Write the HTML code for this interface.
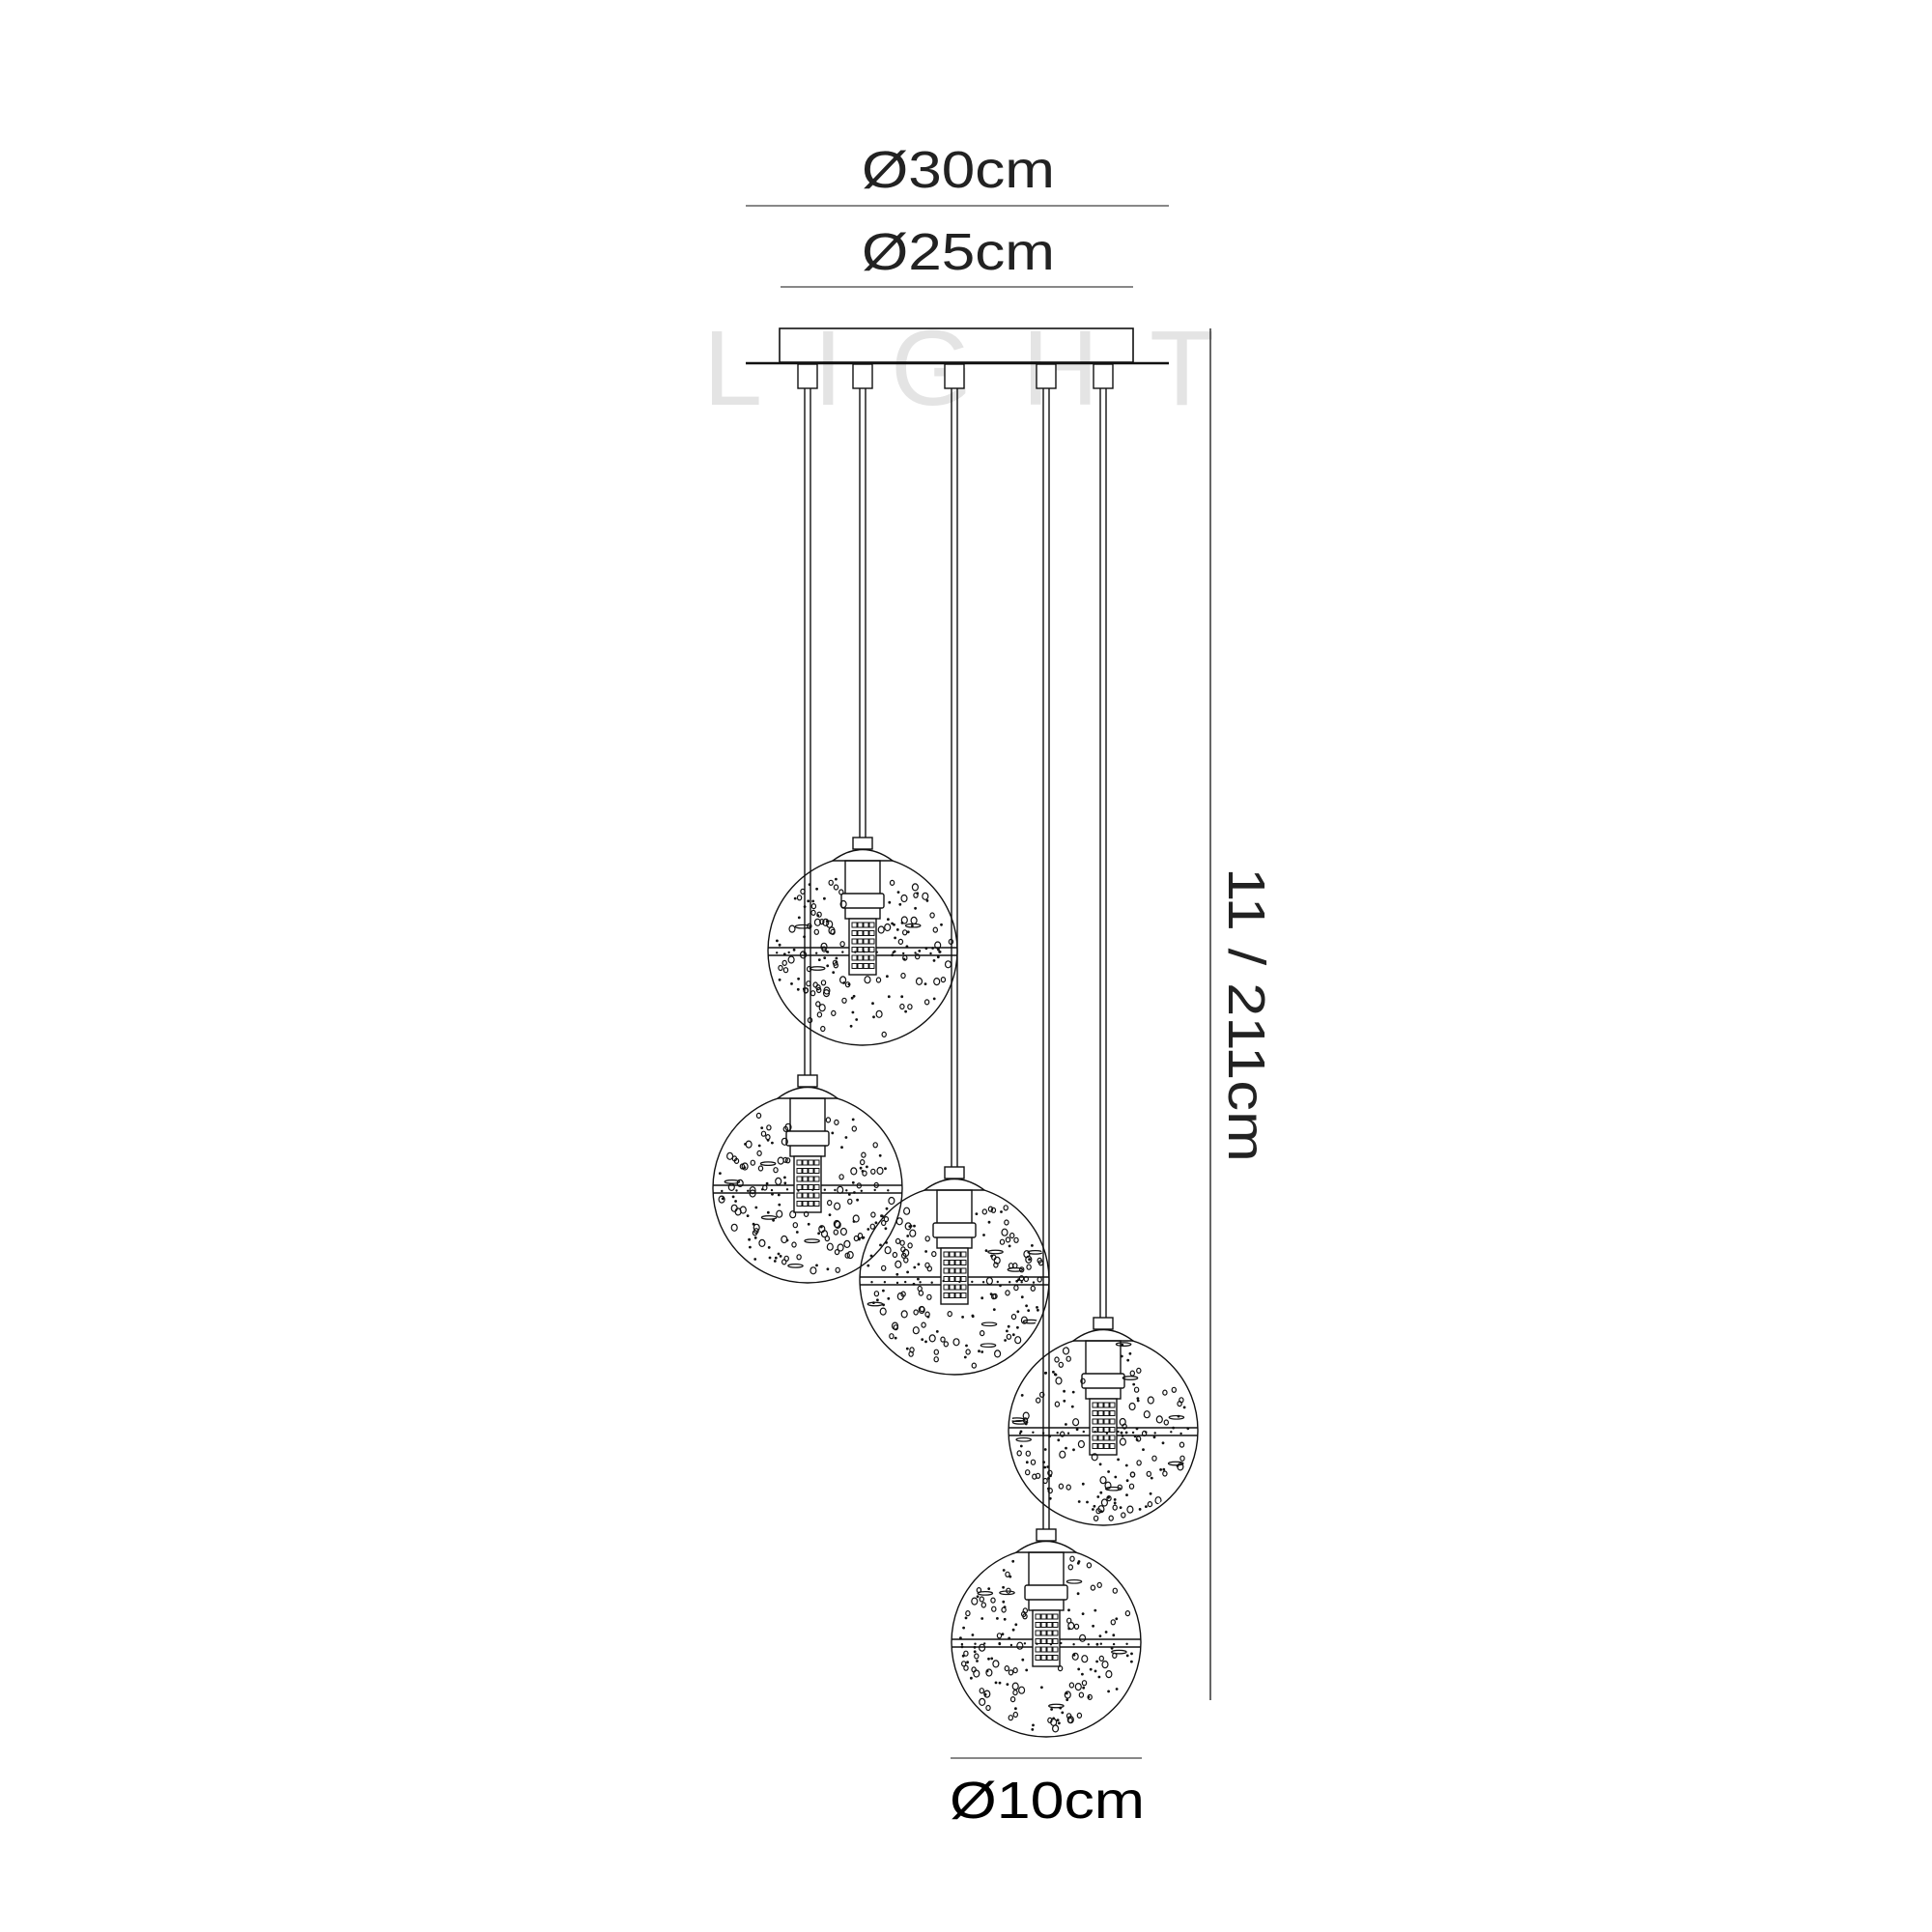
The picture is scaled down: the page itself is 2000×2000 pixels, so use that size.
<!DOCTYPE html>
<html><head><meta charset="utf-8"><style>
html,body{margin:0;padding:0;background:#fff;}
svg{display:block;}
text{font-family:"Liberation Sans",sans-serif;}
</style></head><body>
<svg id="s" width="2000" height="2000" viewBox="0 0 2000 2000" xmlns="http://www.w3.org/2000/svg">
<rect width="2000" height="2000" fill="#fff"/>
<g fill="#e4e4e4" font-size="110">
<text x="728" y="419">L</text>
<text x="842" y="419">I</text>
<text x="922" y="419">G</text>
<text x="1058" y="419">H</text>
<text x="1190" y="419">T</text>
</g>
<g fill="#222" font-size="54">
<text x="892" y="194" textLength="200" lengthAdjust="spacingAndGlyphs">Ø30cm</text>
<text x="892" y="279" textLength="200" lengthAdjust="spacingAndGlyphs">Ø25cm</text>
<text x="983" y="1882" textLength="202" lengthAdjust="spacingAndGlyphs" fill="#000">Ø10cm</text>
<text transform="translate(1272,898) rotate(90)" x="0" y="0" textLength="305" lengthAdjust="spacingAndGlyphs">11 / 211cm</text>
</g>
<g stroke="#888" stroke-width="2">
<line x1="772" y1="213" x2="1210" y2="213"/>
<line x1="808" y1="297" x2="1173" y2="297"/>
<line x1="984" y1="1820" x2="1182" y2="1820"/>
</g>
<line x1="1253" y1="340" x2="1253" y2="1760" stroke="#333" stroke-width="1.5"/>
<g fill="none" stroke="#111" stroke-width="1.6">
<rect x="807" y="340" width="366" height="35"/>
<line x1="772" y1="376" x2="1210" y2="376" stroke-width="2.5"/>
</g>
<g id="wires" fill="none" stroke="#111" stroke-width="1.4"></g>
<g id="spheres"></g>
</svg>
<script>
(function(){
var NS="http://www.w3.org/2000/svg";
var wires=document.getElementById('wires'),sp=document.getElementById('spheres');
var P=[[836,1230],[893,984],[988,1325],[1083,1700],[1142,1481]];
function el(p,t,a){var e=document.createElementNS(NS,t);for(var k in a)e.setAttribute(k,a[k]);p.appendChild(e);return e;}
var seed=11;function rnd(){seed=(seed*16807)%2147483647;return seed/2147483647;}
P.forEach(function(c){
 var x=c[0],y=c[1];
 el(wires,'rect',{x:x-10,y:377,width:20,height:25,fill:'#fff'});
 el(wires,'line',{x1:x-3,y1:402,x2:x-3,y2:y-117});
 el(wires,'line',{x1:x+3,y1:402,x2:x+3,y2:y-117});
});
P.forEach(function(c,i){
 var g=el(sp,'g',{transform:'translate('+c[0]+','+c[1]+')',fill:'none',stroke:'#111','stroke-width':1.4});
 var id='cl'+i;var cp=el(g,'clipPath',{id:id});el(cp,'circle',{cx:0,cy:0,r:95});
 el(g,'circle',{cx:0,cy:0,r:98});
 el(g,'rect',{x:-10,y:-117,width:20,height:12,fill:'#fff'});
 el(g,'path',{d:'M-31,-93 Q0,-116 31,-93 Z',fill:'#fff'});
 el(g,'line',{x1:-98,y1:-3,x2:98,y2:-3});
 el(g,'line',{x1:-98,y1:5,x2:98,y2:5});
 el(g,'rect',{x:-18,y:-93,width:36,height:60});
 el(g,'rect',{x:-22,y:-59,width:44,height:15,rx:2,fill:'#fff'});
 el(g,'rect',{x:-14,y:-33,width:28,height:58,fill:'#fff'});
 for(var r=0;r<6;r++)for(var k=0;k<4;k++)el(g,'rect',{x:-11+k*6,y:-29+r*8.5,width:5,height:5,'stroke-width':1});
 var bg=el(g,'g',{'clip-path':'url(#'+id+')'});
 var placed=0,tries=0;
 while(placed<150&&tries<2000){tries++;
  var bx=(rnd()*2-1)*94,by=(rnd()*2-1)*94;
  if(bx*bx+by*by>92*92)continue;
  if(Math.abs(bx)<19&&by<26&&by>-94)continue;
  placed++;
  var s=rnd();var rr=s<0.45?1.4:(s<0.8?2.5:3.5);
  if(s<0.45)el(bg,'circle',{cx:bx.toFixed(1),cy:by.toFixed(1),r:rr,fill:'#111',stroke:'none'});
  else el(bg,'ellipse',{cx:bx.toFixed(1),cy:by.toFixed(1),rx:rr*(s>0.96?2.2:0.85),ry:rr*(s>0.96?0.5:1),'stroke-width':1.2});
 }
 for(var m=0;m<14;m++)el(bg,'circle',{cx:(-90+m*13+rnd()*5).toFixed(1),cy:(1+rnd()*2).toFixed(1),r:1.2,fill:'#111',stroke:'none'});
});
})();
</script>
</body></html>
